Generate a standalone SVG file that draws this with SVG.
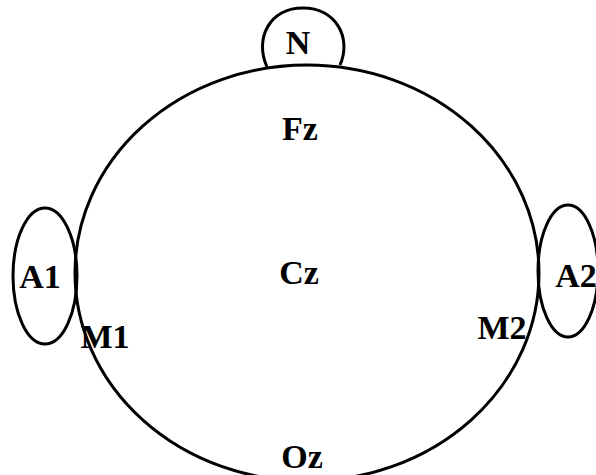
<svg xmlns="http://www.w3.org/2000/svg" width="596" height="475" viewBox="0 0 596 475">
<style>
.ln{fill:none;stroke:#000;stroke-width:3}
.t{font-family:"Liberation Serif","Times New Roman",serif;font-size:34px;font-weight:bold;fill:#000;text-anchor:middle}
</style>
<rect width="596" height="475" fill="#fff"/>
<g id="head"><ellipse class="ln" cx="307" cy="273" rx="232" ry="208"/></g>
<g id="N"><path class="ln" d="M267,67 C254,38 270,8 303,8 C336,8 352,38 340,65"/><text class="t" x="298" y="54">N</text></g>
<g id="Fz"><text class="t" x="300" y="140">Fz</text></g>
<g id="Cz"><text class="t" x="299" y="284">Cz</text></g>
<g id="A1"><ellipse class="ln" cx="45" cy="276" rx="32" ry="68"/><text class="t" x="40" y="288">A1</text></g>
<g id="A2"><ellipse class="ln" cx="568" cy="271" rx="30" ry="66"/><text class="t" x="576" y="287">A2</text></g>
<g id="M1"><text class="t" x="105" y="348">M1</text></g>
<g id="M2"><text class="t" x="502" y="339">M2</text></g>
<g id="Oz"><text class="t" x="302" y="468">Oz</text></g>
<g id="connectors"/>
</svg>
